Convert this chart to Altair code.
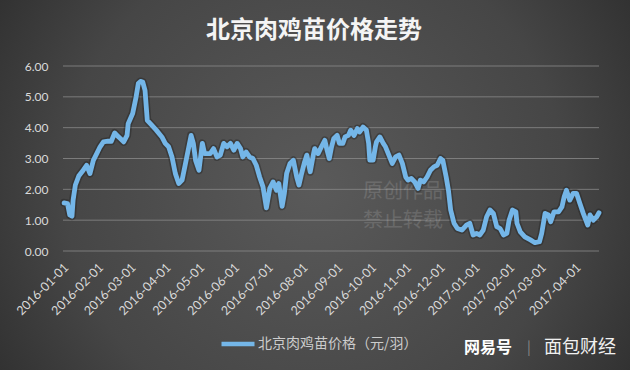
import altair as alt
import pandas as pd

# ---- data ----
day_offsets = [
    1, 4, 6, 8, 9, 11, 14, 18, 21, 24, 27, 30, 33, 36, 40, 43, 46, 48, 51, 54,
    57, 58, 62, 65, 67, 69, 71, 73, 75, 79, 83, 88, 91, 94, 97, 100, 103, 106, 109, 112,
    114, 116, 118, 121, 124, 126, 131, 134, 137, 140, 143, 146, 149, 152, 155, 158, 160, 163, 166, 169,
    172, 175, 178, 181, 184, 187, 190, 192, 195, 197, 199, 202, 205, 208, 210, 212, 215, 217, 220, 223,
    224, 227, 230, 233, 235, 237, 239, 241, 244, 246, 249, 251, 254, 256, 259, 262, 264, 267, 270, 272,
    273, 276, 278, 279, 282, 285, 287, 290, 293, 296, 299, 302, 305, 307, 310, 313, 316, 318, 321, 324,
    327, 330, 333, 336, 338, 341, 343, 345, 348, 351, 355, 359, 362, 365, 368, 371, 374, 377, 380, 383,
    386, 389, 392, 395, 397, 400, 403, 404, 407, 411, 416, 420, 424, 426, 429, 432, 434, 437, 441, 444,
    446, 448, 451, 454, 457, 460, 463, 467, 469, 472, 475, 477,
]
prices = [
    1.56, 1.54, 1.17, 1.13, 1.65, 2.14, 2.43, 2.62, 2.78, 2.51, 2.94, 3.16, 3.38, 3.54, 3.56, 3.56, 3.83, 3.75, 3.65, 3.54,
    3.75, 4.13, 4.46, 4.99, 5.43, 5.50, 5.48, 5.21, 4.24, 4.08, 3.92, 3.70, 3.49, 3.38, 3.05, 2.51, 2.19, 2.30, 2.84, 3.38,
    3.75, 3.49, 2.94, 2.62, 3.49, 3.16, 3.16, 3.32, 3.05, 3.11, 3.49, 3.38, 3.49, 3.27, 3.49, 3.32, 3.05, 3.21, 3.05, 3.00,
    2.78, 2.40, 2.08, 1.40, 2.03, 2.24, 1.97, 2.19, 1.45, 1.87, 2.51, 2.84, 2.94, 2.40, 2.14, 2.46, 2.89, 3.11, 2.57, 3.16,
    3.32, 3.16, 3.38, 3.59, 3.27, 3.00, 3.38, 3.65, 3.75, 3.49, 3.49, 3.70, 3.75, 3.92, 3.75, 3.97, 3.86, 4.02, 3.92, 3.49,
    2.95, 2.95, 3.38, 3.54, 3.70, 3.49, 3.38, 3.11, 2.84, 3.05, 3.11, 2.84, 2.40, 2.30, 2.35, 2.24, 2.03, 2.30, 2.24, 2.40,
    2.62, 2.73, 2.78, 3.00, 2.94, 2.40, 1.97, 1.33, 0.90, 0.73, 0.68, 0.84, 0.90, 0.52, 0.57, 0.52, 0.68, 1.11, 1.33, 1.22,
    0.79, 0.73, 0.52, 0.57, 1.00, 1.33, 1.27, 0.90, 0.62, 0.46, 0.36, 0.27, 0.30, 0.57, 1.22, 1.17, 0.95, 1.27, 1.27, 1.43,
    1.76, 1.97, 1.65, 1.87, 1.87, 1.54, 1.22, 0.84, 1.17, 1.00, 1.11, 1.24,
]
series_name = "北京肉鸡苗价格（元/羽）"
title_text = "北京肉鸡苗价格走势"
y_ticks = [0, 1, 2, 3, 4, 5, 6]
x_tick_months = [(2016, m) for m in range(1, 13)] + [(2017, m) for m in range(1, 5)]

start = pd.Timestamp("2016-01-01")
df = pd.DataFrame({
    "date": [start + pd.Timedelta(days=d) for d in day_offsets],
    "value": prices,
    "series": [series_name] * len(prices),
})
grid_df = pd.DataFrame({"value": y_ticks})
one = pd.DataFrame({"k": [0]})

W, H = 536, 185
PL, PT, PR, PB = 63, 66, 31, 119

x_scale = alt.Scale(domain=[alt.DateTime(year=2016, month=1, date=1),
                            alt.DateTime(year=2017, month=4, date=22)])
y_scale = alt.Scale(domain=[0, 6], nice=False, zero=True)

x_enc = alt.X("date:T", scale=x_scale, axis=alt.Axis(
    values=[alt.DateTime(year=y, month=m, date=1) for y, m in x_tick_months],
    format="%Y-%m-%d", labelAngle=-45, labelAlign="right", labelBaseline="middle",
    labelPadding=14, labelOffset=3, ticks=False, domain=False, grid=False, title=None, zindex=1,
    labelColor="#dadada", labelFont="Lato", labelFontSize=12.5, labelOverlap=False,
    labelBound=False, labelFlush=False))
y_enc = alt.Y("value:Q", scale=y_scale, axis=alt.Axis(
    values=y_ticks, format=".2f", ticks=False, domain=False, grid=False, title=None, zindex=1,
    labelColor="#dadada", labelFont="Lato", labelFontSize=12, labelPadding=15))

bg = alt.Chart(one).mark_rect(fill={
    "gradient": "radial",
    "x1": 0.5, "y1": 0.5, "r1": 0.0,
    "x2": 0.5, "y2": 0.5, "r2": 0.72,
    "stops": [
        {"offset": 0.0, "color": "#5a5a5a"},
        {"offset": 0.55, "color": "#464646"},
        {"offset": 1.0, "color": "#232323"},
    ],
}).encode(x=alt.value(-PL), x2=alt.value(W + PR), y=alt.value(-PT), y2=alt.value(H + PB))

grid = alt.Chart(grid_df).mark_rule(color="#8a8a8a", strokeWidth=1, opacity=0.8).encode(y=y_enc)

wm_df = pd.DataFrame({"t": ["原创作品", "禁止转载"], "yy": [126, 155]})
wm = alt.Chart(wm_df).mark_text(
    font="Noto Sans CJK SC", fontSize=20, color="#ffffff", opacity=0.13, align="center", baseline="middle"
).encode(text="t:N", x=alt.value(340), y=alt.Y("yy:Q", scale=None))

shadow = alt.Chart(df).mark_line(color="#1a1a1a", strokeWidth=8, opacity=0.35,
                                 strokeJoin="round", strokeCap="round").encode(x=x_enc, y=y_enc)
line = alt.Chart(df).mark_line(strokeWidth=4.8, strokeJoin="round", strokeCap="round").encode(
    x=x_enc, y=y_enc,
    color=alt.Color("series:N", scale=alt.Scale(range=["#74b6e8"]), legend=alt.Legend(
        title=None, orient="none", legendX=156, legendY=259, symbolType="stroke",
        symbolSize=1089, symbolStrokeWidth=4.5, labelFont="Noto Sans CJK SC", labelFontSize=14,
        labelColor="#cccccc", labelOffset=1, padding=0)),
)

title = alt.Chart(one).mark_text(
    text=title_text, font="Noto Sans CJK SC", fontSize=24, fontWeight="bold", color="#f4f4f4",
    align="center", baseline="middle"
).encode(x=alt.value(251), y=alt.value(-35))

brand_df = pd.DataFrame({
    "t": ["网易号", "|", "面包财经"],
    "xx": [425, 466, 517],
})
brand1 = alt.Chart(brand_df.iloc[[0]]).mark_text(
    font="Noto Sans CJK SC", fontSize=16, fontWeight="bold", color="#ffffff", align="center", baseline="middle"
).encode(text="t:N", x=alt.X("xx:Q", scale=None), y=alt.value(282))
brand2 = alt.Chart(brand_df.iloc[[1]]).mark_text(
    font="Noto Sans CJK SC", fontSize=14, color="#8a8a8a", align="center", baseline="middle"
).encode(text="t:N", x=alt.X("xx:Q", scale=None), y=alt.value(282))
brand3 = alt.Chart(brand_df.iloc[[2]]).mark_text(
    font="Noto Sans CJK SC", fontSize=18, color="#f0f0f0", align="center", baseline="middle"
).encode(text="t:N", x=alt.X("xx:Q", scale=None), y=alt.value(282))

chart = alt.layer(bg, grid, wm, shadow, line, title, brand1, brand2, brand3).properties(
    width=W, height=H,
    autosize=alt.AutoSizeParams(type="none"),
    padding={"left": PL, "top": PT, "right": PR, "bottom": PB},
    background="#2a2a2a",
).configure_view(stroke=None)

chart.save("out.html", embed_options={"renderer": "svg", "actions": False})
